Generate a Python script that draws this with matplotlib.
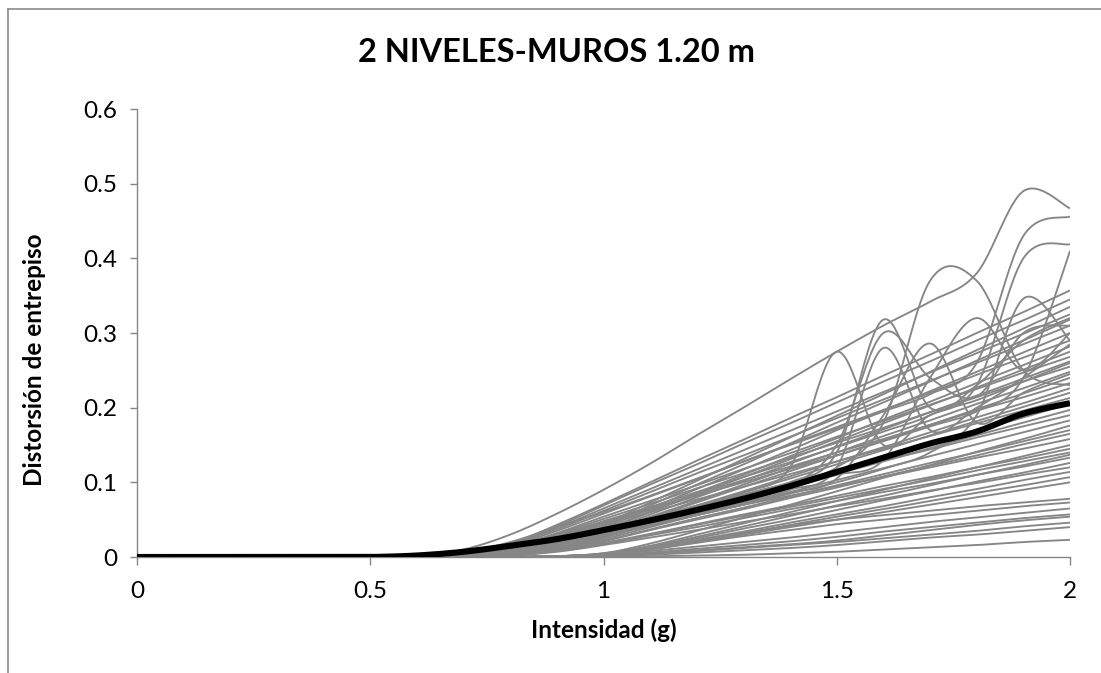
import numpy as np
import matplotlib
matplotlib.use("Agg")
import matplotlib.pyplot as plt
from matplotlib.lines import Line2D

plt.rcParams['font.family'] = ['Lato', 'DejaVu Sans']

# ---------------- data ----------------
intensidad = [0.0, 0.1, 0.2, 0.3, 0.4, 0.5, 0.6, 0.7, 0.8, 0.9, 1.0,
              1.1, 1.2, 1.3, 1.4, 1.5, 1.6, 1.7, 1.8, 1.9, 2.0]

Z6 = [0, 0, 0, 0, 0, 0]  # zero response for intensities 0 - 0.5

registros = [
    Z6 + [0.001, 0.010, 0.030, 0.058, 0.090, 0.125, 0.163, 0.200, 0.238, 0.275, 0.310, 0.342, 0.380, 0.490, 0.467],
    Z6 + [0.001, 0.006, 0.020, 0.040, 0.060, 0.082, 0.105, 0.128, 0.150, 0.172, 0.195, 0.218, 0.260, 0.430, 0.456],
    Z6 + [0.000, 0.004, 0.015, 0.030, 0.048, 0.067, 0.087, 0.107, 0.127, 0.147, 0.168, 0.190, 0.230, 0.400, 0.419],
    Z6 + [0.000, 0.004, 0.014, 0.028, 0.045, 0.063, 0.082, 0.100, 0.118, 0.136, 0.155, 0.175, 0.195, 0.240, 0.410],
    Z6 + [0.000, 0.003, 0.010, 0.022, 0.036, 0.052, 0.069, 0.087, 0.120, 0.275, 0.150, 0.190, 0.210, 0.235, 0.260],
    Z6 + [0.000, 0.002, 0.008, 0.020, 0.033, 0.048, 0.064, 0.080, 0.100, 0.140, 0.318, 0.200, 0.230, 0.290, 0.320],
    Z6 + [0.000, 0.002, 0.008, 0.018, 0.030, 0.044, 0.058, 0.073, 0.090, 0.120, 0.280, 0.170, 0.200, 0.240, 0.285],
    Z6 + [0.000, 0.002, 0.007, 0.017, 0.029, 0.042, 0.056, 0.070, 0.086, 0.105, 0.190, 0.286, 0.180, 0.220, 0.245],
    Z6 + [0.000, 0.002, 0.009, 0.020, 0.034, 0.050, 0.066, 0.083, 0.100, 0.120, 0.180, 0.370, 0.370, 0.250, 0.230],
    Z6 + [0.000, 0.002, 0.008, 0.020, 0.033, 0.047, 0.062, 0.077, 0.093, 0.110, 0.130, 0.240, 0.320, 0.250, 0.300],
    Z6 + [0.000, 0.002, 0.007, 0.017, 0.029, 0.042, 0.056, 0.070, 0.085, 0.100, 0.118, 0.140, 0.190, 0.346, 0.290],
    Z6 + [0.000, 0.002, 0.008, 0.019, 0.032, 0.046, 0.061, 0.077, 0.095, 0.150, 0.300, 0.240, 0.215, 0.300, 0.310],
    Z6 + [0.001, 0.004, 0.018, 0.043, 0.071, 0.100, 0.129, 0.157, 0.186, 0.214, 0.243, 0.271, 0.300, 0.328, 0.357],
    Z6 + [0.001, 0.003, 0.017, 0.041, 0.069, 0.097, 0.124, 0.152, 0.179, 0.207, 0.235, 0.262, 0.290, 0.317, 0.345],
    Z6 + [0.000, 0.001, 0.005, 0.020, 0.044, 0.073, 0.102, 0.131, 0.160, 0.189, 0.218, 0.248, 0.277, 0.306, 0.335],
    Z6 + [0.001, 0.003, 0.016, 0.039, 0.065, 0.091, 0.117, 0.143, 0.169, 0.195, 0.221, 0.247, 0.273, 0.299, 0.325],
    Z6 + [0.000, 0.001, 0.005, 0.019, 0.041, 0.069, 0.097, 0.124, 0.152, 0.180, 0.207, 0.235, 0.263, 0.290, 0.318],
    Z6 + [0.001, 0.003, 0.016, 0.037, 0.062, 0.087, 0.112, 0.136, 0.161, 0.186, 0.211, 0.236, 0.260, 0.285, 0.310],
    Z6 + [0.000, 0.001, 0.005, 0.018, 0.039, 0.065, 0.091, 0.117, 0.143, 0.170, 0.196, 0.222, 0.248, 0.274, 0.300],
    Z6 + [0.001, 0.003, 0.015, 0.035, 0.058, 0.081, 0.104, 0.128, 0.151, 0.174, 0.197, 0.220, 0.244, 0.267, 0.290],
    Z6 + [0.000, 0.001, 0.004, 0.017, 0.037, 0.061, 0.086, 0.110, 0.135, 0.159, 0.184, 0.208, 0.233, 0.257, 0.282],
    Z6 + [0.000, 0.001, 0.004, 0.017, 0.036, 0.060, 0.084, 0.107, 0.131, 0.155, 0.179, 0.203, 0.227, 0.251, 0.275],
    Z6 + [0.001, 0.003, 0.013, 0.032, 0.054, 0.075, 0.096, 0.118, 0.139, 0.161, 0.182, 0.204, 0.225, 0.247, 0.268],
    Z6 + [0.000, 0.001, 0.004, 0.016, 0.034, 0.057, 0.080, 0.102, 0.125, 0.148, 0.171, 0.194, 0.216, 0.239, 0.262],
    Z6 + [0.001, 0.003, 0.013, 0.031, 0.051, 0.071, 0.092, 0.112, 0.133, 0.153, 0.173, 0.194, 0.214, 0.235, 0.255],
    Z6 + [0.000, 0.001, 0.004, 0.015, 0.032, 0.054, 0.075, 0.097, 0.119, 0.140, 0.162, 0.183, 0.205, 0.226, 0.248],
    Z6 + [0.000, 0.001, 0.004, 0.014, 0.031, 0.052, 0.073, 0.094, 0.115, 0.136, 0.156, 0.177, 0.198, 0.219, 0.240],
    Z6 + [0.000, 0.002, 0.012, 0.028, 0.047, 0.065, 0.084, 0.103, 0.121, 0.140, 0.158, 0.177, 0.196, 0.214, 0.233],
    Z6 + [0.000, 0.001, 0.003, 0.014, 0.029, 0.049, 0.069, 0.088, 0.108, 0.128, 0.147, 0.167, 0.187, 0.206, 0.226],
    Z6 + [0.000, 0.001, 0.003, 0.013, 0.029, 0.048, 0.067, 0.086, 0.105, 0.124, 0.143, 0.163, 0.182, 0.201, 0.220],
    Z6 + [0.000, 0.002, 0.011, 0.026, 0.043, 0.060, 0.077, 0.094, 0.111, 0.128, 0.145, 0.162, 0.179, 0.196, 0.213],
    Z6 + [0.000, 0.001, 0.003, 0.012, 0.027, 0.044, 0.062, 0.080, 0.098, 0.116, 0.134, 0.151, 0.169, 0.187, 0.205],
    Z6 + [0.000, 0.001, 0.003, 0.012, 0.026, 0.043, 0.060, 0.077, 0.094, 0.111, 0.128, 0.146, 0.163, 0.180, 0.197],
    Z6 + [0.000, 0.002, 0.010, 0.023, 0.038, 0.053, 0.068, 0.084, 0.099, 0.114, 0.129, 0.144, 0.160, 0.175, 0.190],
    Z6 + [0.000, 0.001, 0.003, 0.011, 0.024, 0.040, 0.056, 0.071, 0.087, 0.103, 0.119, 0.135, 0.151, 0.167, 0.183],
    Z6 + [0.000, 0.000, 0.000, 0.001, 0.005, 0.018, 0.035, 0.053, 0.070, 0.088, 0.106, 0.123, 0.141, 0.158, 0.176],
    Z6 + [0.000, 0.001, 0.003, 0.010, 0.022, 0.037, 0.052, 0.066, 0.081, 0.096, 0.111, 0.126, 0.140, 0.155, 0.170],
    Z6 + [0.000, 0.000, 0.002, 0.010, 0.021, 0.036, 0.050, 0.064, 0.079, 0.093, 0.108, 0.122, 0.136, 0.151, 0.165],
    Z6 + [0.000, 0.002, 0.008, 0.019, 0.032, 0.044, 0.057, 0.070, 0.082, 0.095, 0.107, 0.120, 0.133, 0.145, 0.158],
    Z6 + [0.000, 0.000, 0.000, 0.001, 0.005, 0.015, 0.030, 0.045, 0.060, 0.075, 0.090, 0.105, 0.120, 0.135, 0.150],
    Z6 + [0.000, 0.000, 0.002, 0.009, 0.019, 0.031, 0.044, 0.057, 0.069, 0.082, 0.095, 0.107, 0.120, 0.132, 0.145],
    Z6 + [0.000, 0.000, 0.002, 0.008, 0.018, 0.030, 0.043, 0.055, 0.067, 0.079, 0.091, 0.103, 0.116, 0.128, 0.140],
    Z6 + [0.000, 0.000, 0.000, 0.001, 0.004, 0.014, 0.027, 0.041, 0.055, 0.069, 0.082, 0.096, 0.110, 0.123, 0.137],
    Z6 + [0.000, 0.000, 0.002, 0.008, 0.017, 0.029, 0.040, 0.052, 0.064, 0.075, 0.087, 0.098, 0.110, 0.121, 0.133],
    Z6 + [0.000, 0.000, 0.000, 0.001, 0.004, 0.013, 0.025, 0.038, 0.050, 0.063, 0.076, 0.088, 0.101, 0.113, 0.126],
    Z6 + [0.000, 0.000, 0.002, 0.007, 0.016, 0.026, 0.036, 0.047, 0.057, 0.068, 0.078, 0.089, 0.099, 0.110, 0.120],
    Z6 + [0.000, 0.000, 0.000, 0.001, 0.003, 0.011, 0.023, 0.034, 0.046, 0.057, 0.068, 0.080, 0.091, 0.103, 0.114],
    Z6 + [0.000, 0.000, 0.000, 0.001, 0.003, 0.011, 0.021, 0.032, 0.043, 0.054, 0.064, 0.075, 0.086, 0.096, 0.107],
    Z6 + [0.000, 0.000, 0.000, 0.001, 0.003, 0.010, 0.020, 0.030, 0.040, 0.050, 0.060, 0.070, 0.080, 0.090, 0.100],
    Z6 + [0.000, 0.000, 0.000, 0.001, 0.004, 0.012, 0.022, 0.032, 0.042, 0.050, 0.056, 0.062, 0.068, 0.073, 0.078],
    Z6 + [0.000, 0.000, 0.000, 0.001, 0.003, 0.010, 0.019, 0.028, 0.036, 0.044, 0.050, 0.056, 0.062, 0.068, 0.073],
    Z6 + [0.000, 0.000, 0.000, 0.001, 0.003, 0.008, 0.014, 0.020, 0.026, 0.033, 0.040, 0.047, 0.053, 0.059, 0.065],
    Z6 + [0.000, 0.000, 0.000, 0.000, 0.002, 0.006, 0.011, 0.016, 0.021, 0.027, 0.034, 0.040, 0.046, 0.052, 0.057],
    Z6 + [0.000, 0.000, 0.000, 0.000, 0.002, 0.005, 0.009, 0.013, 0.017, 0.022, 0.029, 0.036, 0.043, 0.049, 0.054],
    Z6 + [0.000, 0.000, 0.000, 0.000, 0.001, 0.004, 0.008, 0.012, 0.016, 0.020, 0.025, 0.030, 0.035, 0.041, 0.046],
    Z6 + [0.000, 0.000, 0.000, 0.000, 0.001, 0.003, 0.006, 0.009, 0.012, 0.016, 0.021, 0.026, 0.030, 0.035, 0.040],
    Z6 + [0.000, 0.000, 0.000, 0.000, 0.000, 0.001, 0.002, 0.003, 0.005, 0.007, 0.010, 0.013, 0.016, 0.020, 0.023],
]

promedio = [0.0, 0.0, 0.0, 0.0, 0.0, 0.0, 0.002, 0.007, 0.015, 0.024, 0.036,
            0.049, 0.063, 0.078, 0.095, 0.114, 0.133, 0.152, 0.168, 0.192, 0.206]

titulo = "2 NIVELES-MUROS 1.20 m"
etiqueta_x = "Intensidad (g)"
etiqueta_y = "Distorsión de entrepiso"
xticks = [0, 0.5, 1, 1.5, 2]
xtick_labels = ["0", "0.5", "1", "1.5", "2"]
yticks = [0, 0.1, 0.2, 0.3, 0.4, 0.5, 0.6]
ytick_labels = ["0", "0.1", "0.2", "0.3", "0.4", "0.5", "0.6"]


# Excel-like smoothed line rendering (cubic Bezier through the data points)
def suavizar(x, y, n=24):
    x = np.asarray(x, float)
    y = np.asarray(y, float)
    px = np.concatenate([[x[0]], x, [x[-1]]])
    py = np.concatenate([[y[0]], y, [y[-1]]])
    t = np.linspace(0, 1, n, endpoint=False)[:, None]
    xs, ys = [], []
    for i in range(1, len(px) - 2):
        p0 = np.array([px[i], py[i]])
        p3 = np.array([px[i + 1], py[i + 1]])
        c1 = p0 + (np.array([px[i + 1], py[i + 1]]) - np.array([px[i - 1], py[i - 1]])) / 6.0
        c2 = p3 - (np.array([px[i + 2], py[i + 2]]) - np.array([px[i], py[i]])) / 6.0
        b = ((1 - t) ** 3) * p0 + 3 * ((1 - t) ** 2) * t * c1 + 3 * (1 - t) * t ** 2 * c2 + t ** 3 * p3
        xs.append(b[:, 0])
        ys.append(b[:, 1])
    xs.append([x[-1]])
    ys.append([y[-1]])
    return np.concatenate(xs), np.concatenate(ys)


fig = plt.figure(figsize=(11.01, 6.73), dpi=100)
ax = fig.add_axes([137 / 1101, 1 - 557 / 673, (1070 - 137) / 1101, (557 - 109) / 673])

gris = "#868686"
for serie in registros:
    sx, sy = suavizar(intensidad, serie)
    ax.plot(sx, sy, color=gris, lw=1.35, solid_capstyle='butt', zorder=2)

mx, my = suavizar(intensidad, promedio)
ax.plot(mx, my, color="black", lw=4.4, solid_capstyle='butt', zorder=3)

ax.set_xlim(0, 2)
ax.set_ylim(0, 0.6)
ax.set_xticks(xticks)
ax.set_xticklabels(xtick_labels)
ax.set_yticks(yticks)
ax.set_yticklabels(ytick_labels)

for s in ['top', 'right']:
    ax.spines[s].set_visible(False)
for s in ['left', 'bottom']:
    ax.spines[s].set_color(gris)
    ax.spines[s].set_linewidth(1.0)
ax.spines['bottom'].set_zorder(1)

ax.tick_params(axis='both', colors=gris, labelcolor='black', labelsize=17.5, length=5, width=1.0)
ax.tick_params(axis='x', pad=11, length=6)
ax.tick_params(axis='y', pad=9)

ax.set_xlabel(etiqueta_x, fontsize=17.5, fontweight='bold', labelpad=12)
ax.set_ylabel(etiqueta_y, fontsize=17.5, fontweight='bold')
ax.yaxis.set_label_coords(-0.0975, 0.44)
fig.text(556 / 1101, 1 - 53 / 673, titulo, fontsize=23.5, fontweight='bold',
         ha='center', va='center')

# chart area border (Excel style)
bx = 7.5 / 1101
by = 1 - 8.5 / 673
fig.add_artist(Line2D([bx, bx], [0, by], transform=fig.transFigure, color="#8a8a8a", lw=1.2))
fig.add_artist(Line2D([bx, 1], [by, by], transform=fig.transFigure, color="#8a8a8a", lw=1.2))

fig.savefig("out.png", dpi=100)
